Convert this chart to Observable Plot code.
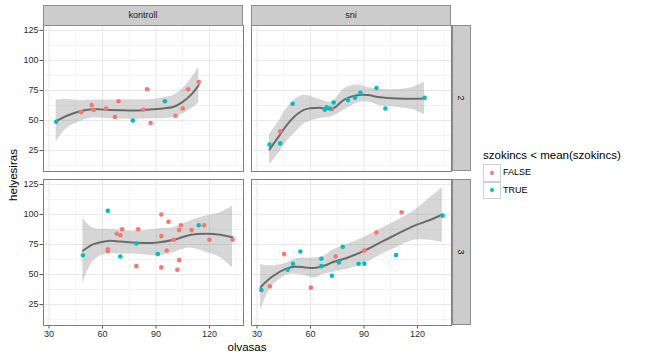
<!DOCTYPE html>
<html><head><meta charset="utf-8">
<script src="https://cdn.jsdelivr.net/npm/d3@7"></script>
<script src="https://cdn.jsdelivr.net/npm/@observablehq/plot@0.6"></script>
<style>
body{margin:0;background:#fff;font-family:"Liberation Sans",Arial,sans-serif;}
#wrap{position:relative;width:648px;height:360px;overflow:hidden;background:#fff}
#wrap svg{position:absolute;left:0;top:0}
.strip{position:absolute;background:#cccccc;border:1px solid #8c8c8c;box-sizing:border-box;display:flex;align-items:center;justify-content:center;font-size:9px;color:#1a1a1a}
.strip.v span{display:inline-block;transform:rotate(90deg)}
.ttl{position:absolute;font-size:11.5px;color:#000;white-space:nowrap}
.key{position:absolute;width:18px;height:17.5px;border:1px solid #d0d0d0;box-sizing:border-box;background:#fff}
.key i{position:absolute;left:6px;top:5.5px;width:4.4px;height:4.4px;border-radius:50%}
.klab{position:absolute;font-size:9px;color:#000;line-height:17px}
[aria-label$="axis tick"]{color:#555}
</style></head>
<body><div id="wrap"></div>
<script>
const groups = ["kontroll", "sni"];
const rows = ["2", "3"];
const xTicks = [30, 60, 90, 120];
const yTicks = [25, 50, 75, 100, 125];
const xMinor = [45, 75, 105, 135];
const yMinor = [12.5, 37.5, 62.5, 87.5, 112.5];
const colorDomain = ["FALSE", "TRUE"];
const colorRange = ["#F8766D", "#00BFC4"];

// kontroll, row 2
const k2x = [34, 48, 54, 55, 62, 67, 69, 77, 83, 85, 87, 95, 101, 105, 108, 114];
const k2y = [49, 57, 63, 59, 60, 53, 66, 50, 59, 76, 48, 66, 54, 60, 76, 82];
const k2t = ["TRUE","FALSE","FALSE","FALSE","FALSE","FALSE","FALSE","TRUE","FALSE","FALSE","FALSE","TRUE","FALSE","FALSE","FALSE","FALSE"];
const k2sx = [34, 40, 48, 55, 64, 72, 80, 88, 94, 100, 105, 110, 114];
const k2fit = [49.5, 54, 58, 59.5, 58.7, 58.5, 58.4, 59.5, 60, 61.5, 65.5, 72, 79.5];
const k2hi = [67, 67.5, 66.5, 67, 67, 67.3, 67, 67.5, 69, 71, 76.5, 85.5, 94];
const k2lo = [32, 43.5, 49.5, 52.3, 51.5, 51, 51, 51.5, 51.5, 52.5, 55.5, 60, 64.5];

// sni, row 2
const s2x = [37, 43, 43, 50, 68, 69, 72, 71, 73, 81, 85, 88, 97, 102, 124];
const s2y = [30, 31, 41, 64, 59, 61, 59.5, 60, 65, 67, 69, 73, 77, 60, 69];
const s2t = ["TRUE","TRUE","FALSE","TRUE","TRUE","TRUE","FALSE","TRUE","TRUE","TRUE","TRUE","TRUE","TRUE","TRUE","TRUE"];
const s2sx = [37, 43, 46, 52, 57, 65, 72, 79, 86, 92, 99, 109, 118, 124];
const s2fit = [26, 38.5, 45, 54.6, 59.3, 60.6, 59.5, 67.5, 71, 71.2, 69.3, 68.3, 68.1, 68.4];
const s2hi = [38, 51, 58.7, 68.4, 71.1, 67.6, 65.6, 76.5, 79.5, 77.5, 76, 75.8, 78, 82];
const s2lo = [13.1, 24.5, 31.1, 40.8, 47.7, 51.8, 53.2, 58.7, 64.5, 65.6, 62.3, 60.9, 58.7, 54.6];

// kontroll, row 3
const k3x = [49, 63, 63, 63, 68, 70, 71, 70, 79, 80, 79, 91, 93, 93, 93, 96, 97, 100, 102, 103, 103, 104, 110, 114, 117, 120, 133];
const k3y = [66, 103, 71, 69.5, 84, 82.7, 87.7, 65, 75.8, 87.7, 57, 67, 100, 82, 56, 70, 94, 79, 54, 87, 62, 91, 87, 91, 91, 79, 79];
const k3t = ["TRUE","TRUE","FALSE","FALSE","FALSE","FALSE","FALSE","TRUE","TRUE","FALSE","FALSE","TRUE","FALSE","FALSE","FALSE","FALSE","FALSE","FALSE","FALSE","FALSE","FALSE","FALSE","FALSE","TRUE","FALSE","FALSE","FALSE"];
const k3sx = [49, 55, 63, 70, 79, 91, 100, 109, 118, 126, 133];
const k3fit = [69.8, 75.3, 78, 77.5, 76.4, 76.7, 78.9, 83, 84, 83.2, 81];
const k3hi = [96.5, 88.5, 87.7, 86.9, 86.3, 88, 89.1, 94.6, 98.8, 101.5, 107];
const k3lo = [42.1, 61.5, 67.5, 67, 67, 65.5, 68.4, 72, 68.5, 64.2, 55.4];

// sni, row 3
const s3x = [32.4, 37.2, 45.2, 47.2, 50.2, 54.3, 60.2, 66.1, 66.1, 72, 74.1, 75.9, 78.1, 87, 90.2, 90.2, 97, 108, 111.1, 134.1];
const s3y = [37.2, 40.2, 67, 54, 59, 69.2, 39.1, 63.1, 57, 49, 65.1, 60.1, 73.1, 59, 59, 70, 85, 66.2, 101.8, 99];
const s3t = ["TRUE","FALSE","FALSE","TRUE","TRUE","TRUE","FALSE","TRUE","TRUE","TRUE","FALSE","TRUE","TRUE","TRUE","TRUE","FALSE","FALSE","TRUE","FALSE","TRUE"];
const s3sx = [32, 38, 46, 51, 57, 62, 68, 72, 81, 90, 99, 109, 118, 127, 134];
const s3fit = [39.4, 47.7, 54.7, 56.5, 55.9, 55.4, 57.5, 60, 64.2, 69.7, 76.5, 84, 90.5, 95.4, 100];
const s3hi = [58.1, 57.3, 59.3, 62.8, 63.7, 63.7, 65.6, 70, 75.3, 80.8, 87.7, 95.2, 102.9, 113.9, 122.2];
const s3lo = [20, 39.4, 49, 50.4, 49, 47.1, 50.4, 51.8, 54.6, 58.7, 66, 73, 78.5, 78.6, 76.6];

const panels = [
  {g: "kontroll", r: "2", x: k2x, y: k2y, t: k2t, sx: k2sx, fit: k2fit, hi: k2hi, lo: k2lo},
  {g: "sni", r: "2", x: s2x, y: s2y, t: s2t, sx: s2sx, fit: s2fit, hi: s2hi, lo: s2lo},
  {g: "kontroll", r: "3", x: k3x, y: k3y, t: k3t, sx: k3sx, fit: k3fit, hi: k3hi, lo: k3lo},
  {g: "sni", r: "3", x: s3x, y: s3y, t: s3t, sx: s3sx, fit: s3fit, hi: s3hi, lo: s3lo}
];
const points = panels.flatMap(p => p.x.map((v, i) => ({group: p.g, row: p.r, olvasas: v, helyesiras: p.y[i], cat: p.t[i]})));
const smooth = panels.flatMap(p => p.sx.map((v, i) => ({group: p.g, row: p.r, olvasas: v, fit: p.fit[i], hi: p.hi[i], lo: p.lo[i]})));

const W = 648, H = 360, ML = 43, MR = 197, MT = 25, MB = 35;
const chart = Plot.plot({
  width: W, height: H,
  marginLeft: ML, marginRight: MR, marginTop: MT, marginBottom: MB,
  style: {fontFamily: "'Liberation Sans', Arial, sans-serif", fontSize: "9px", color: "#2b2b2b", background: "transparent"},
  x: {domain: [26.9, 139.1], ticks: xTicks, tickSize: 3.5, tickPadding: 1.5, label: null},
  y: {domain: [7.6, 129.1], ticks: yTicks, tickSize: 3.5, tickPadding: 1.5, label: null},
  fx: {domain: groups, paddingInner: 8 / 208, paddingOuter: 0, axis: null, label: null},
  fy: {domain: rows, paddingInner: 8 / 154, paddingOuter: 0, axis: null, label: null},
  color: {domain: colorDomain, range: colorRange},
  marks: [
    Plot.gridX(xMinor, {stroke: "#f3f3f3", strokeOpacity: 1, strokeWidth: 1}),
    Plot.gridY(yMinor, {stroke: "#f3f3f3", strokeOpacity: 1, strokeWidth: 1}),
    Plot.gridX(xTicks, {stroke: "#e8e8e8", strokeOpacity: 1, strokeWidth: 1}),
    Plot.gridY(yTicks, {stroke: "#e8e8e8", strokeOpacity: 1, strokeWidth: 1}),
    Plot.areaY(smooth, {x: "olvasas", y1: "lo", y2: "hi", fx: "group", fy: "row", fill: "#999999", fillOpacity: 0.4, curve: "catmull-rom"}),
    Plot.line(smooth, {x: "olvasas", y: "fit", fx: "group", fy: "row", stroke: "#6b6b6b", strokeWidth: 2, curve: "catmull-rom"}),
    Plot.dot(points, {x: "olvasas", y: "helyesiras", fx: "group", fy: "row", fill: "cat", r: 2.3}),
    Plot.frame({stroke: "#7f7f7f", strokeWidth: 1})
  ]
});
const wrap = document.getElementById("wrap");
wrap.appendChild(chart);

const fx = chart.scale("fx"), fy = chart.scale("fy");
const bwx = fx.bandwidth, bwy = fy.bandwidth;
function add(cls, css, html) {
  const d = document.createElement("div");
  d.className = cls;
  Object.assign(d.style, css);
  d.innerHTML = html;
  wrap.appendChild(d);
  return d;
}
groups.forEach(g => {
  const x0 = fx.apply(g);
  add("strip", {left: x0 + "px", top: (MT - 20) + "px", width: bwx + "px", height: "20.5px"}, g);
});
const rightEdge = fx.apply(groups[groups.length - 1]) + bwx;
rows.forEach(r => {
  const y0 = fy.apply(r);
  add("strip v", {left: (rightEdge + 0.5) + "px", top: y0 + "px", width: "19px", height: bwy + "px"}, "<span>" + r + "</span>");
});
// axis titles
const cx = (fx.apply(groups[0]) + rightEdge) / 2;
add("ttl", {left: cx + "px", top: "341px", transform: "translateX(-50%)"}, "olvasas");
const cy = (fy.apply(rows[0]) + fy.apply(rows[rows.length - 1]) + bwy) / 2;
add("ttl", {left: "13px", top: cy + "px", transform: "translate(-50%,-50%) rotate(-90deg)"}, "helyesiras");
// legend
add("ttl", {left: "483px", top: "149px"}, "szokincs &lt; mean(szokincs)");
colorDomain.forEach((c, i) => {
  const top = 164 + i * 17.6;
  add("key", {left: "483px", top: top + "px"}, '<i style="background:' + colorRange[i] + '"></i>');
  add("klab", {left: "503px", top: top + "px"}, c);
});
</script>
</body></html>
